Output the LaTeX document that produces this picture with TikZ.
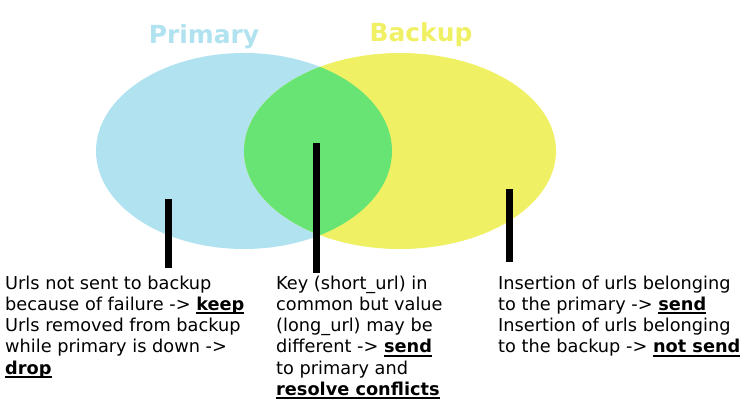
\documentclass[tikz,border=0pt]{standalone}
\usepackage{fontspec}
\setmainfont{DejaVu Sans}
\usetikzlibrary{positioning}

\definecolor{azul}{HTML}{B0E2EF}
\definecolor{amarelo}{HTML}{F0F064}
\definecolor{verde}{HTML}{68E474}

\newsavebox{\caixaacao}
\newcommand{\acao}[1]{\sbox{\caixaacao}{\textbf{#1}}%
  \rlap{\vrule height -1.8bp depth 3.8bp width \wd\caixaacao}\usebox{\caixaacao}}

\begin{document}
\begin{tikzpicture}[x=1bp, y=-1bp,
    every node/.style={font=\fontsize{17.8}{21.3}\selectfont}
  ]

  \tikzset{
    titulo/.style={font=\fontsize{25}{30}\selectfont\bfseries, inner sep=0pt},
    nota/.style={anchor=north west, align=left, inner sep=0pt},
    barra/.style={line width=7bp, line cap=butt}
  }

  \useasboundingbox (0,0) rectangle (752,411);

  % conjuntos
  \fill[azul] (244,151) ellipse [x radius=148, y radius=98];
  \fill[amarelo] (400,151) ellipse [x radius=156, y radius=98];
  \begin{scope}
    \clip (244,151) ellipse [x radius=148, y radius=98];
    \fill[verde] (400,151) ellipse [x radius=156, y radius=98];
  \end{scope}

  % titulos
  \node[titulo, text=azul, anchor=base] (primary) at (204,43) {Primary};
  \node[titulo, text=amarelo, anchor=base] (backup) at (421,41) {Backup};

  % barras
  \coordinate (b1a) at (168.5,199);
  \coordinate (b1b) at (168.5,268);
  \coordinate (b2a) at (316.5,143);
  \coordinate (b2b) at (316.5,273);
  \coordinate (b3a) at (509.5,189);
  \coordinate (b3b) at (509.5,262);
  \draw[barra] (b1a) -- (b1b);
  \draw[barra] (b2a) -- (b2b);
  \draw[barra] (b3a) -- (b3b);

  % textos
  \node[nota] (esq) at (5,275.5) {Urls not sent to backup\\
    because of failure -> \acao{keep}\\
    Urls removed from backup\\
    while primary is down ->\\
    \acao{drop}};

  \node[nota] (meio) at (276,275.5) {Key (short\_url) in\\
    common but value\\
    (long\_url) may be\\
    different -> \acao{send}\\
    to primary and\\
    \acao{resolve conflicts}};

  \node[nota] (dir) at (498,275.5) {Insertion of urls belonging\\
    to the primary -> \acao{send}\\
    Insertion of urls belonging\\
    to the backup -> \acao{not send}};

\end{tikzpicture}
\end{document}
